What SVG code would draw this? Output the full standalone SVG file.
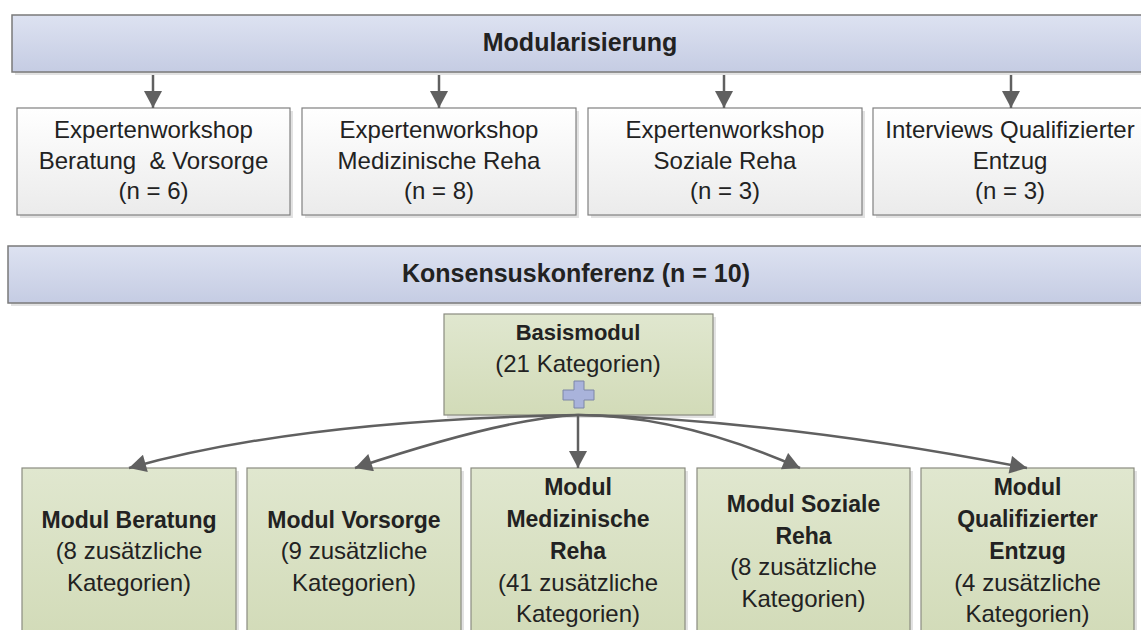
<svg xmlns="http://www.w3.org/2000/svg" width="1141" height="630" viewBox="0 0 1141 630">
  <defs>
    <linearGradient id="gBar" x1="0" y1="0" x2="0" y2="1">
      <stop offset="0" stop-color="#dde2f1"/>
      <stop offset="1" stop-color="#c5cce3"/>
    </linearGradient>
    <linearGradient id="gWhite" x1="0" y1="0" x2="0" y2="1">
      <stop offset="0" stop-color="#ffffff"/>
      <stop offset="1" stop-color="#ebebeb"/>
    </linearGradient>
    <linearGradient id="gGreen" x1="0" y1="0" x2="0" y2="1">
      <stop offset="0" stop-color="#e0e7cf"/>
      <stop offset="1" stop-color="#d2dbb8"/>
    </linearGradient>
    <marker id="ah" markerUnits="userSpaceOnUse" markerWidth="18" markerHeight="18" viewBox="0 0 17 18" refX="17" refY="9" orient="auto">
      <path d="M0,0 L17,9 L0,18 z" fill="#606060"/>
    </marker>
    <style>
      .shadow { fill: #e2e2e2; }
      .bar { fill: url(#gBar); stroke: #7a7a7a; stroke-width: 1.5; }
      .wbox { fill: url(#gWhite); stroke: #808080; stroke-width: 1.2; }
      .gbox { fill: url(#gGreen); stroke: #8a8c80; stroke-width: 1.2; }
      text { font-family: "Liberation Sans", Arial, sans-serif; fill: #222222; text-anchor: middle; }
      .reg { font-size: 24px; }
      .bold { font-size: 23px; font-weight: bold; }
      .title { font-size: 25px; font-weight: bold; }
      .conn { fill: none; stroke: #606060; stroke-width: 2.5; marker-end: url(#ah); }
      .plus { fill: #a9b3db; stroke: #7d86a6; stroke-width: 1; }
    </style>
  </defs>

  <!-- Modularisierung bar -->
  <g id="modularisierung">
    <rect class="shadow" x="15" y="18" width="1140" height="57"/>
    <rect class="bar" x="12" y="15" width="1140" height="57"/>
    <text class="title" x="580" y="51">Modularisierung</text>
  </g>

  <!-- Top boxes -->
  <g id="ew1">
    <rect class="shadow" x="20" y="111" width="273" height="107"/>
    <rect class="wbox" x="17" y="108" width="273" height="107"/>
    <text class="reg" x="153.5" y="138">Expertenworkshop</text>
    <text class="reg" x="153.5" y="169" xml:space="preserve">Beratung  &amp; Vorsorge</text>
    <text class="reg" x="153.5" y="199">(n = 6)</text>
  </g>
  <g id="ew2">
    <rect class="shadow" x="305" y="111" width="274" height="107"/>
    <rect class="wbox" x="302" y="108" width="274" height="107"/>
    <text class="reg" x="439" y="138">Expertenworkshop</text>
    <text class="reg" x="439" y="169">Medizinische Reha</text>
    <text class="reg" x="439" y="199">(n = 8)</text>
  </g>
  <g id="ew3">
    <rect class="shadow" x="591" y="111" width="274" height="107"/>
    <rect class="wbox" x="588" y="108" width="274" height="107"/>
    <text class="reg" x="725" y="138">Expertenworkshop</text>
    <text class="reg" x="725" y="169">Soziale Reha</text>
    <text class="reg" x="725" y="199">(n = 3)</text>
  </g>
  <g id="iv4">
    <rect class="shadow" x="876" y="111" width="280" height="107"/>
    <rect class="wbox" x="873" y="108" width="280" height="107"/>
    <text class="reg" x="1010" y="138">Interviews Qualifizierter</text>
    <text class="reg" x="1010" y="169">Entzug</text>
    <text class="reg" x="1010" y="199">(n = 3)</text>
  </g>

  <!-- Konsensuskonferenz bar -->
  <g id="konsensus">
    <rect class="shadow" x="11" y="249" width="1140" height="57"/>
    <rect class="bar" x="8" y="246" width="1140" height="57"/>
    <text class="title" x="576" y="282">Konsensuskonferenz (n = 10)</text>
  </g>

  <!-- Basismodul -->
  <g id="basismodul">
    <rect class="shadow" x="447" y="317" width="269" height="101"/>
    <rect class="gbox" x="444" y="314" width="269" height="101"/>
    <text class="bold" x="578" y="340" style="font-size:22px">Basismodul</text>
    <text class="reg" x="578" y="372">(21 Kategorien)</text>
    <path class="plus" d="M574,381 H584 V390 H594 V400 H584 V408 H574 V400 H563 V390 H574 Z"/>
  </g>

  <!-- Bottom modules -->
  <g id="m-beratung">
    <rect class="shadow" x="25" y="471" width="214" height="170"/>
    <rect class="gbox" x="22" y="468" width="214" height="170"/>
    <text class="bold" x="129" y="528">Modul Beratung</text>
    <text class="reg" x="129" y="559">(8 zusätzliche</text>
    <text class="reg" x="129" y="591">Kategorien)</text>
  </g>
  <g id="m-vorsorge">
    <rect class="shadow" x="250" y="471" width="214" height="170"/>
    <rect class="gbox" x="247" y="468" width="214" height="170"/>
    <text class="bold" x="354" y="528">Modul Vorsorge</text>
    <text class="reg" x="354" y="559">(9 zusätzliche</text>
    <text class="reg" x="354" y="591">Kategorien)</text>
  </g>
  <g id="m-medreha">
    <rect class="shadow" x="474" y="471" width="214" height="170"/>
    <rect class="gbox" x="471" y="468" width="214" height="170"/>
    <text class="bold" x="578" y="495">Modul</text>
    <text class="bold" x="578" y="527">Medizinische</text>
    <text class="bold" x="578" y="559">Reha</text>
    <text class="reg" x="578" y="591">(41 zusätzliche</text>
    <text class="reg" x="578" y="622">Kategorien)</text>
  </g>
  <g id="m-sozreha">
    <rect class="shadow" x="700" y="471" width="213" height="170"/>
    <rect class="gbox" x="697" y="468" width="213" height="170"/>
    <text class="bold" x="803.5" y="512">Modul Soziale</text>
    <text class="bold" x="803.5" y="544">Reha</text>
    <text class="reg" x="803.5" y="575">(8 zusätzliche</text>
    <text class="reg" x="803.5" y="607">Kategorien)</text>
  </g>
  <g id="m-entzug">
    <rect class="shadow" x="924" y="471" width="213" height="170"/>
    <rect class="gbox" x="921" y="468" width="213" height="170"/>
    <text class="bold" x="1027.5" y="495">Modul</text>
    <text class="bold" x="1027.5" y="527">Qualifizierter</text>
    <text class="bold" x="1027.5" y="559">Entzug</text>
    <text class="reg" x="1027.5" y="591">(4 zusätzliche</text>
    <text class="reg" x="1027.5" y="622">Kategorien)</text>
  </g>

  <!-- Connectors -->
  <g id="connectors">
    <path class="conn" d="M153,75 V108"/>
    <path class="conn" d="M439,75 V108"/>
    <path class="conn" d="M724,75 V108"/>
    <path class="conn" d="M1011,75 V108"/>
    <path class="conn" d="M578,415 Q300,420 129,468"/>
    <path class="conn" d="M578,415 Q505,418 355,468"/>
    <path class="conn" d="M578,415 V468"/>
    <path class="conn" d="M578,415 Q680,415 800,468"/>
    <path class="conn" d="M578,415 Q780,420 1027,468"/>
  </g>
</svg>
